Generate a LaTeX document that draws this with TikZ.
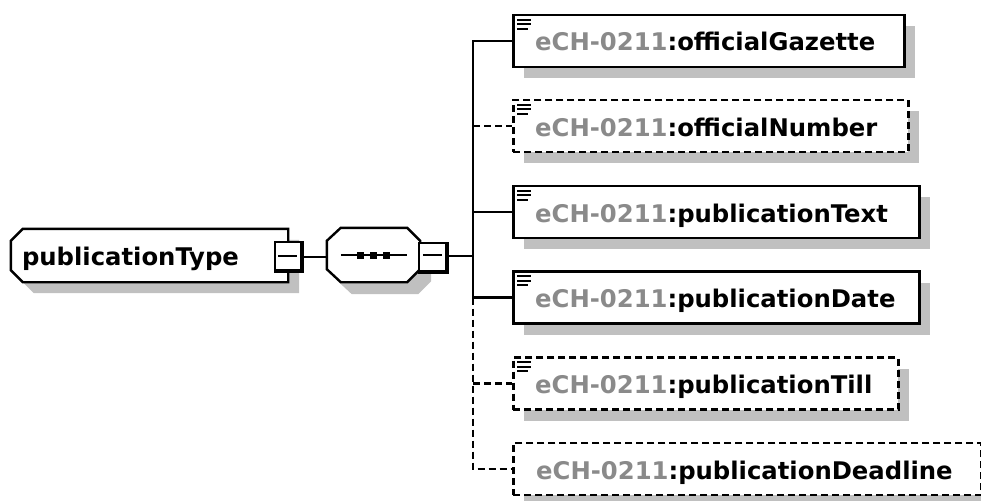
\documentclass[tikz,border=0pt]{standalone}
\usepackage{fontspec}
\newfontfamily\dfont{DejaVu Sans}
\usetikzlibrary{shadows,calc}
\definecolor{shd}{HTML}{C0C0C0}
\definecolor{pre}{HTML}{8A8A8A}
\newcommand\docicon[1]{%
  \draw[line width=2pt] ($(#1.north west)+(5,6)$) -- ++(14,0)
    ($(#1.north west)+(5,10.5)$) -- ++(14,0)
    ($(#1.north west)+(5,15)$) -- ++(11,0);}
\newcommand\ptshape[3]{% node, dx, dy
  ($(#1.north west)+(12+#2,#3)$) -- ($(#1.north east)+(#2,#3)$) -- ($(#1.south east)+(#2,#3)$)
  -- ($(#1.south west)+(12+#2,#3)$) -- ($(#1.south west)+(#2,-12+#3)$) -- ($(#1.north west)+(#2,12+#3)$) -- cycle}
\newcommand\seqshape[3]{%
  ($(#1.north west)+(14+#2,#3)$) -- ($(#1.north east)+(-13+#2,#3)$) -- ($(#1.north east)+(#2,13+#3)$)
  -- ($(#1.south east)+(#2,-13+#3)$) -- ($(#1.south east)+(-13+#2,#3)$) -- ($(#1.south west)+(14+#2,#3)$)
  -- ($(#1.south west)+(#2,-13+#3)$) -- ($(#1.north west)+(#2,13+#3)$) -- cycle}
\begin{document}
\begin{tikzpicture}[x=1pt,y=-1pt,
  box/.style={draw=black, line width=2.5pt, fill=white, minimum height=52pt, inner sep=0pt, anchor=west,
    general shadow={shadow xshift=11pt, shadow yshift=-11pt, fill=shd, draw=none}},
  optbox/.style={box, dash pattern=on 7pt off 4pt},
  lbl/.style={anchor=base west, inner sep=0pt, font=\dfont\bfseries\fontsize{24.3}{28}\selectfont},
  conn/.style={line width=2.4pt},
  optconn/.style={conn, dash pattern=on 7pt off 4pt},
  anchorbox/.style={draw=none, inner sep=0pt},
  mbox/.style={fill=black, draw=none, inner sep=0pt, minimum height=32pt},
  minusline/.style={line width=2.2pt}
]
\useasboundingbox[fill=white] (0,0) rectangle (981,500);

% publicationType element
\node[anchorbox, minimum width=277pt, minimum height=53pt] (pt) at (149.5,255.5) {};
\fill[shd] \ptshape{pt}{11}{11};
\draw[fill=white, line width=2.4pt, line join=miter] \ptshape{pt}{0}{0};
\node[lbl] (ptl) at ($(pt.west)+(11,9.5)$) {publicationType};
\node[mbox, minimum width=30pt] (ptm) at (289,257) {};
\fill[white] ([shift={(2.5,2.5)}]ptm.north west) rectangle ([shift={(-4.5,-4.5)}]ptm.south east);
\draw[minusline] ($(ptm.west)+(4.5,-1)$) -- ($(ptm.east)+(-7,-1)$);

% sequence compositor
\node[anchorbox, minimum width=93pt, minimum height=54pt] (seq) at (373.5,255) {};
\fill[shd] \seqshape{seq}{11}{12};
\draw[fill=white, line width=2.4pt] \seqshape{seq}{0}{0};
\draw[line width=2.2pt] ($(seq.west)+(14,0)$) -- ($(seq.east)+(-13,0)$);
\foreach \dx in {-13,0,13} \fill ($(seq.center)+(\dx-3.7,-3.5)$) rectangle ++(7.4,7);
\node[mbox, minimum width=31pt] (seqm) at (433.5,258) {};
\fill[white] ([shift={(2.5,2.5)}]seqm.north west) rectangle ([shift={(-4.5,-4.5)}]seqm.south east);
\draw[minusline] ($(seqm.west)+(5,-3)$) -- ($(seqm.east)+(-7.5,-3)$);

\draw[conn] (ptm.east) -- (ptm.east -| seq.west);

% children
\node[box, minimum width=391pt] (g) at (512,41) {};
\node[optbox, minimum width=395pt] (n) at (512,126) {};
\node[box, minimum width=406pt] (t) at (512,212) {};
\node[box, minimum width=406pt] (d) at (512,297.5) {};
\node[optbox, minimum width=385pt] (ti) at (512,383.5) {};
\node[optbox, minimum width=468pt] (dl) at (512,469) {};

\coordinate (tr) at (473,256);
\draw[conn] ($(seqm.east)+(0,-2)$) -- (tr);
\draw[conn] (g.west) -- (g.west -| tr) -- (d.west -| tr) -- (d.west);
\draw[conn] (t.west) -- (t.west -| tr);
\draw[optconn] (n.west -| tr) -- (n.west);
\draw[optconn] (d.west -| tr) -- (dl.west -| tr) -- (dl.west);
\draw[optconn] (ti.west -| tr) -- (ti.west);

\node[lbl] (gl) at ($(g.west)+(23,10)$) {\textcolor{pre}{eCH-0211}:officialGazette};
\node[lbl] (nl) at ($(n.west)+(23,10)$) {\textcolor{pre}{eCH-0211}:officialNumber};
\node[lbl] (tl) at ($(t.west)+(23,10)$) {\textcolor{pre}{eCH-0211}:publicationText};
\node[lbl] (dlb) at ($(d.west)+(23,10)$) {\textcolor{pre}{eCH-0211}:publicationDate};
\node[lbl] (til) at ($(ti.west)+(23,10)$) {\textcolor{pre}{eCH-0211}:publicationTill};
\node[lbl] (dll) at ($(dl.west)+(24,10)$) {\textcolor{pre}{eCH-0211}:publicationDeadline};

\docicon{g}
\docicon{n}
\docicon{t}
\docicon{d}
\docicon{ti}
\end{tikzpicture}
\end{document}
